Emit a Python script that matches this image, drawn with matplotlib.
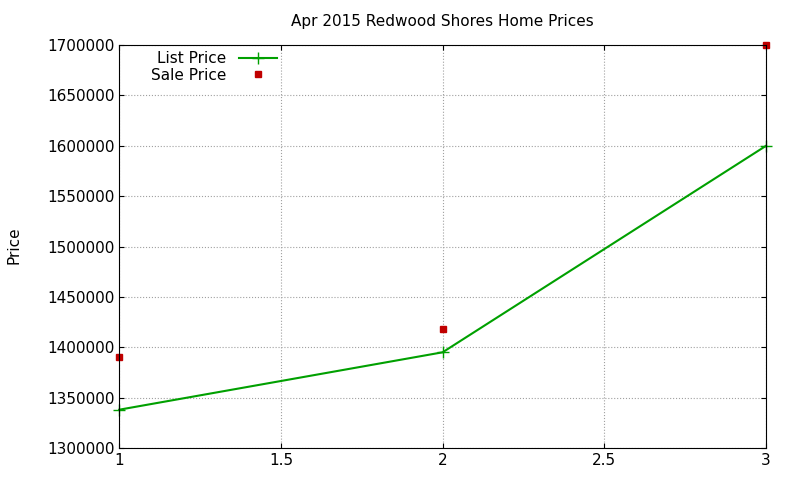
import matplotlib
matplotlib.use('Agg')
import matplotlib.pyplot as plt

x = [1, 2, 3]
list_price = [1338000, 1395000, 1600000]
sale_price = [1390000, 1418000, 1700000]
yticks = list(range(1300000, 1700001, 50000))

fig = plt.figure(figsize=(8, 4.8), dpi=100)
ax = fig.add_axes([0.149, 0.0667, 0.8085, 0.8393])
ax.plot(x, list_price, color='#00a000', marker='+', markersize=8, lw=1.5, label='List Price', clip_on=False)
ax.plot(x, sale_price, ls='none', marker='s', color='#c00000', markersize=5, label='Sale Price', clip_on=False)

ax.set_xlim(1, 3)
ax.set_ylim(1300000, 1700000)
ax.set_xticks([1, 1.5, 2, 2.5, 3])
ax.set_xticklabels(['1', '1.5', '2', '2.5', '3'])
ax.set_yticks(yticks)
ax.set_yticklabels([str(v) for v in yticks])
ax.grid(True, color='#a0a0a0', ls=':', lw=0.8)
ax.tick_params(direction='in', labelsize=11, top=True, right=True)
ax.set_title('Apr 2015 Redwood Shores Home Prices', fontsize=11, pad=14)
fig.text(0.008, 0.49, 'Price', rotation=90, va='center', fontsize=11)
ax.legend(loc='upper left', bbox_to_anchor=(0.04, 1.0), frameon=False, markerfirst=False,
          fontsize=11, handlelength=2.5, borderaxespad=0, labelspacing=0.1)
fig.savefig('out.png')
